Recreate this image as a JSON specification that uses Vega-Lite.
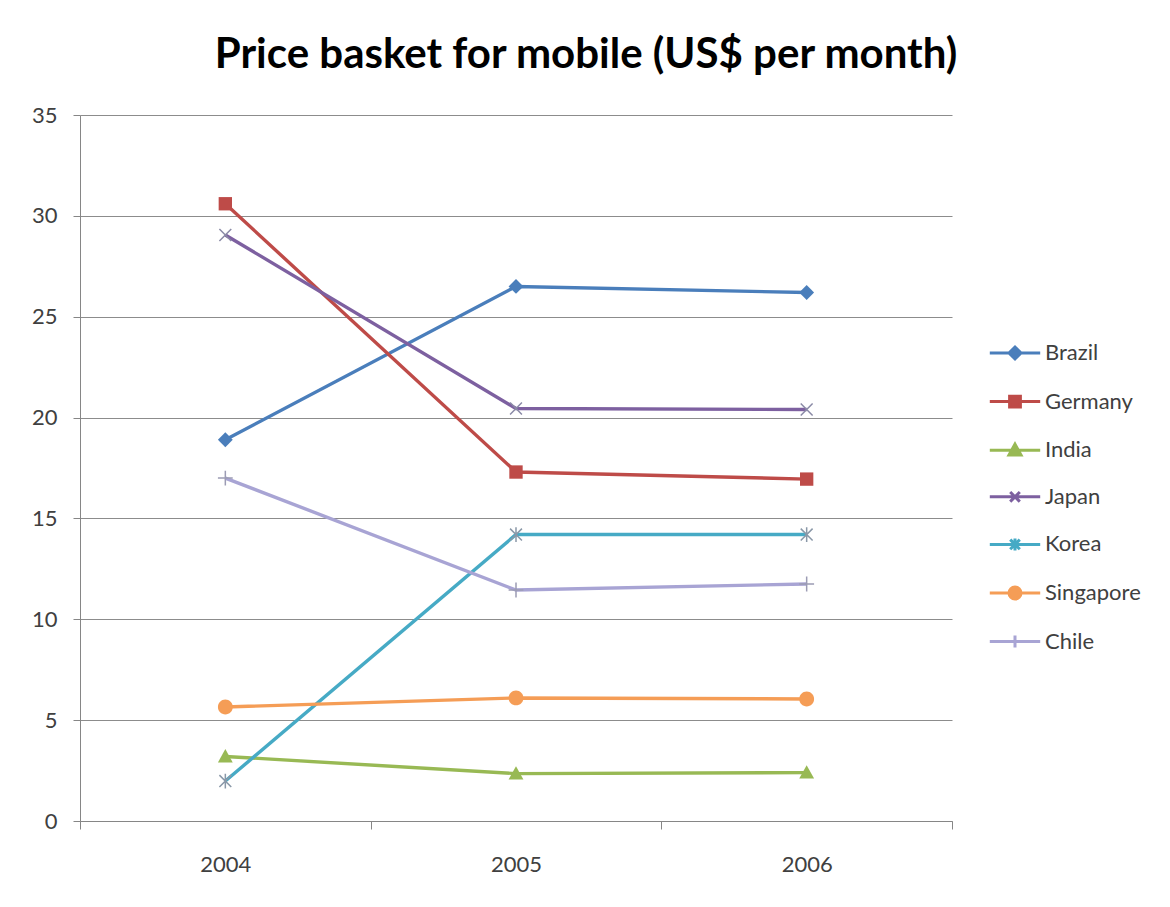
{
  "$schema": "https://vega.github.io/schema/vega-lite/v6.json",
  "autosize": {"type": "none"},
  "width": 872,
  "height": 706,
  "padding": {"left": 80, "top": 115, "right": 218, "bottom": 86},
  "background": "white",
  "title": {
    "text": "Price basket for mobile (US$ per month)",
    "font": "Lato",
    "fontSize": 42,
    "fontWeight": "bold",
    "color": "#000000",
    "anchor": "middle",
    "dx": 70,
    "offset": -6,
    "baseline": "alphabetic"
  },
  "data": {
    "values": [
      {"country": "Brazil", "year": "2004", "value": 18.9},
      {"country": "Brazil", "year": "2005", "value": 26.5},
      {"country": "Brazil", "year": "2006", "value": 26.2},
      {"country": "Germany", "year": "2004", "value": 30.6},
      {"country": "Germany", "year": "2005", "value": 17.3},
      {"country": "Germany", "year": "2006", "value": 16.95},
      {"country": "India", "year": "2004", "value": 3.2},
      {"country": "India", "year": "2005", "value": 2.35},
      {"country": "India", "year": "2006", "value": 2.4},
      {"country": "Japan", "year": "2004", "value": 29.05},
      {"country": "Japan", "year": "2005", "value": 20.45},
      {"country": "Japan", "year": "2006", "value": 20.4},
      {"country": "Korea", "year": "2004", "value": 1.98},
      {"country": "Korea", "year": "2005", "value": 14.2},
      {"country": "Korea", "year": "2006", "value": 14.2},
      {"country": "Singapore", "year": "2004", "value": 5.65},
      {"country": "Singapore", "year": "2005", "value": 6.1},
      {"country": "Singapore", "year": "2006", "value": 6.05},
      {"country": "Chile", "year": "2004", "value": 17.0},
      {"country": "Chile", "year": "2005", "value": 11.45},
      {"country": "Chile", "year": "2006", "value": 11.75}
    ]
  },
  "encoding": {
    "x": {
      "field": "year",
      "type": "ordinal",
      "bandPosition": 0.5,
      "scale": {"type": "band", "paddingInner": 0, "paddingOuter": 0},
      "axis": {
        "title": null,
        "labelAngle": 0,
        "tickBand": "extent",
        "labelFont": "Lato",
        "labelFontSize": 22,
        "labelColor": "#404040",
        "labelPadding": 25,
        "domainColor": "#868686",
        "tickColor": "#868686",
        "tickSize": 8,
        "grid": false
      }
    },
    "y": {
      "field": "value",
      "type": "quantitative",
      "scale": {"domain": [0, 35], "nice": false},
      "axis": {
        "title": null,
        "values": [0, 5, 10, 15, 20, 25, 30, 35],
        "labelFont": "Lato",
        "labelFontSize": 22,
        "labelColor": "#404040",
        "labelPadding": 16,
        "domainColor": "#868686",
        "tickColor": "#868686",
        "tickSize": 7,
        "grid": true,
        "gridColor": "#8c8c8c",
        "gridWidth": 1
      }
    },
    "color": {
      "field": "country",
      "type": "nominal",
      "sort": ["Brazil", "Germany", "India", "Japan", "Korea", "Singapore", "Chile"],
      "scale": {
        "domain": ["Brazil", "Germany", "India", "Japan", "Korea", "Singapore", "Chile"],
        "range": ["#4A7EBB", "#BE4B48", "#98B954", "#7D60A0", "#46AAC5", "#F59D56", "#A8A4D4"]
      },
      "legend": {
        "title": null,
        "orient": "none",
        "legendX": 924,
        "legendY": 227,
        "padding": 0,
        "symbolSize": 144,
        "rowPadding": 24.6,
        "labelOffset": 19,
        "labelFont": "Lato",
        "labelFontSize": 22,
        "labelColor": "#404040",
        "encode": {
          "symbols": {
            "update": {
              "shape": {"signal": "datum.value==='Brazil'?'M-4.2,0L4.2,0M0,-1L1,0L0,1L-1,0Z':datum.value==='Germany'?'M-4.2,0L4.2,0M-0.9,-0.9L0.9,-0.9L0.9,0.9L-0.9,0.9Z':datum.value==='India'?'M-4.2,0L4.2,0M0,-1L1,0.8L-1,0.8Z':datum.value==='Japan'?'M-4.2,0L4.2,0M-0.8,-0.8L0.8,0.8M-0.8,0.8L0.8,-0.8':datum.value==='Korea'?'M-4.2,0L4.2,0M-0.8,-0.8L0.8,0.8M-0.8,0.8L0.8,-0.8M0,-1L0,1':datum.value==='Singapore'?'M-4.2,0L4.2,0M1,0A1,1,0,1,1,-1,0A1,1,0,1,1,1,0Z':'M-4.2,0L4.2,0M-1,0L1,0M0,-1L0,1'"},
              "fill": {"scale": "color", "field": "value"},
              "stroke": {"scale": "color", "field": "value"},
              "strokeWidth": {"value": 3},
              "opacity": {"value": 1}
            }
          }
        }
      }
    }
  },
  "layer": [
    {"mark": {"type": "line", "strokeWidth": 3.4}},
    {
      "transform": [{"filter": "datum.country === 'Brazil'"}],
      "mark": {"type": "point", "filled": true, "opacity": 1, "size": 220, "shape": "M0,-1L1,0L0,1L-1,0Z"}
    },
    {
      "transform": [{"filter": "datum.country === 'Germany'"}],
      "mark": {"type": "point", "filled": true, "opacity": 1, "size": 220, "shape": "M-0.9,-0.9L0.9,-0.9L0.9,0.9L-0.9,0.9Z"}
    },
    {
      "transform": [{"filter": "datum.country === 'India'"}],
      "mark": {"type": "point", "filled": true, "opacity": 1, "size": 220, "shape": "M0,-1L1,0.8L-1,0.8Z"}
    },
    {
      "transform": [{"filter": "datum.country === 'Japan'"}],
      "mark": {"type": "point", "filled": false, "opacity": 1, "size": 220, "strokeWidth": 1.5, "stroke": "#8a8aa6", "shape": "M-0.8,-0.8L0.8,0.8M-0.8,0.8L0.8,-0.8"}
    },
    {
      "transform": [{"filter": "datum.country === 'Korea'"}],
      "mark": {"type": "point", "filled": false, "opacity": 1, "size": 220, "strokeWidth": 1.5, "stroke": "#8a98a8", "shape": "M-0.8,-0.8L0.8,0.8M-0.8,0.8L0.8,-0.8M0,-1L0,1"}
    },
    {
      "transform": [{"filter": "datum.country === 'Singapore'"}],
      "mark": {"type": "point", "filled": true, "opacity": 1, "size": 220, "shape": "M1,0A1,1,0,1,1,-1,0A1,1,0,1,1,1,0Z"}
    },
    {
      "transform": [{"filter": "datum.country === 'Chile'"}],
      "mark": {"type": "point", "filled": false, "opacity": 1, "size": 220, "strokeWidth": 1.5, "stroke": "#9c9cb4", "shape": "M-1,0L1,0M0,-1L0,1"}
    }
  ],
  "config": {
    "view": {"stroke": null},
    "axis": {"domainWidth": 1, "tickWidth": 1}
  }
}
